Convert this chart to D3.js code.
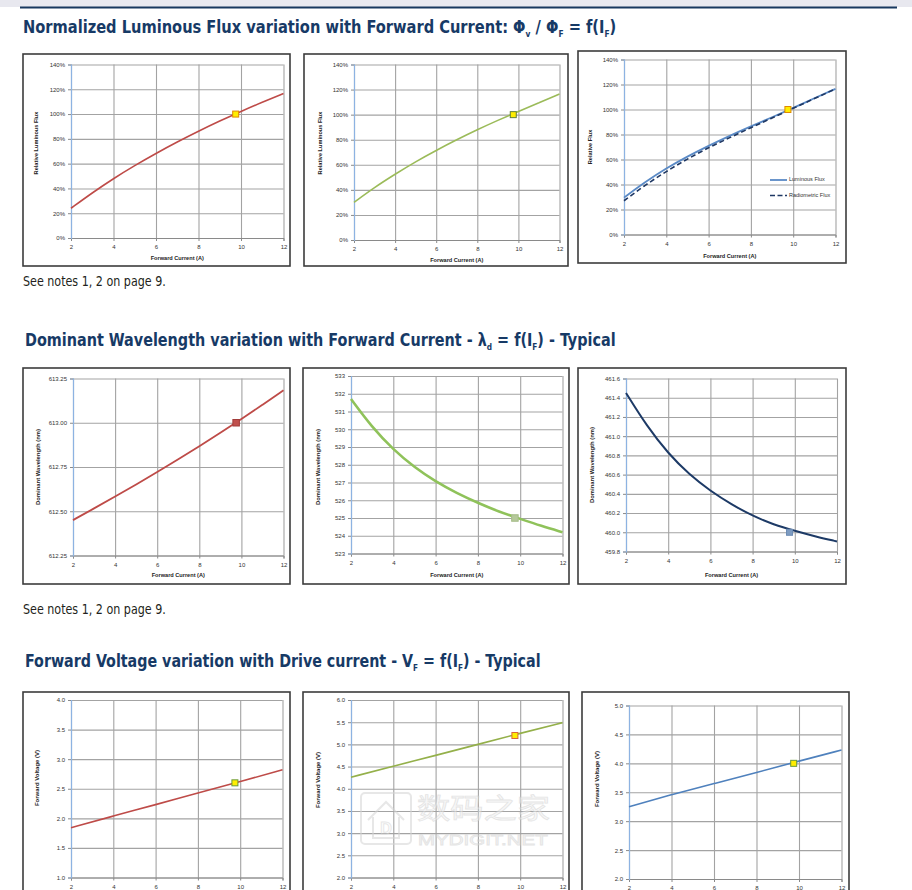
<!DOCTYPE html>
<html><head><meta charset="utf-8">
<script src="https://cdn.jsdelivr.net/npm/d3@7"></script>
<style>
html,body{margin:0;padding:0;background:#fff;}
svg{display:block;}
</style></head><body>
<svg id="c" width="912" height="890"></svg>
<script>
// ---------- DATA ----------
const currentA = [2,3,4,5,6,7,8,9,10,11,12];
const xTicks = [2,4,6,8,10,12];
const typicalCurrent = 9.75;

const fluxRed = [24,36.5,48,58.5,68.3,77.5,86.2,94.4,102.2,109.6,116.6];
const fluxGreen = [30,42,52.5,62.5,71.5,80,88,95.5,102.5,109.5,116.5];
const fluxBlueLuminous = [29.5,42,53,62.5,71,79,86.5,93.8,101.3,109,116.5];
const fluxBlueRadiometric = [27,39.5,50.5,60.5,69.5,77.5,85.5,93.2,101,108.7,116.5];
const fluxTypical = [100,100,100];
const fluxTicks = [0,20,40,60,80,100,120,140];
const legendLabels = ["Luminous Flux","Radiometric Flux"];

const wlRed = [612.45,612.516,612.583,612.651,612.721,612.793,612.867,612.943,613.021,613.101,613.183];
const wlGreen = [531.7,530.1,528.85,527.85,527.05,526.4,525.85,525.35,524.95,524.55,524.2];
const wlBlue = [461.45,461.1,460.82,460.6,460.43,460.29,460.17,460.08,460.015,459.955,459.905];
const wlTypical = [613.0,525.0,460.0];
const wlRedTicks = [612.25,612.5,612.75,613.0,613.25];
const wlGreenTicks = [523,524,525,526,527,528,529,530,531,532,533];
const wlBlueTicks = [459.8,460.0,460.2,460.4,460.6,460.8,461.0,461.2,461.4,461.6];

const vfCurrent = [2,4,6,8,10,12];
const vfRed = [1.84,2.04,2.23,2.43,2.62,2.82];
const vfGreen = [4.26,4.51,4.75,5.0,5.25,5.49];
const vfBlue = [3.25,3.46,3.65,3.84,4.04,4.23];
const vfTypical = [2.6,5.2,4.0];
const vfRedTicks = [1.0,1.5,2.0,2.5,3.0,3.5,4.0];
const vfGreenTicks = [2.0,2.5,3.0,3.5,4.0,4.5,5.0,5.5,6.0];
const vfBlueTicks = [2.0,2.5,3.0,3.5,4.0,4.5,5.0];

const xTitle = "Forward Current (A)";
const yTitles = ["Relative Luminous Flux","Relative Luminous Flux","Relative Flux",
  "Dominant Wavelength (nm)","Dominant Wavelength (nm)","Dominant Wavelength (nm)",
  "Forward Voltage (V)","Forward Voltage (V)","Forward Voltage (V)"];

// ---------- DRAW ----------
const svg = d3.select("#c");
const TITLE_FONT = "'Liberation Sans Narrow','DejaVu Sans Condensed','Arial Narrow',sans-serif";
const SMALL_FONT = "'Liberation Sans','Arial',sans-serif";

svg.append("rect").attr("x",0).attr("y",0).attr("width",912).attr("height",7).attr("fill","#e8e8ef");
svg.append("line").attr("x1",20).attr("x2",897).attr("y1",7.5).attr("y2",7.5).attr("stroke","#17375e").attr("stroke-width",2);

function fitX(sel, x, y, len){
  const w = sel.node().getBBox().width;
  const s = len / w;
  sel.attr("transform",`translate(${x},${y}) scale(${s},1)`);
}

function title(parts, x, y, len){
  const t = svg.append("text").attr("x",0).attr("y",0)
    .attr("font-family",TITLE_FONT).attr("font-weight","bold").attr("font-size",18.5)
    .attr("fill","#173a66");
  parts.forEach(p=>{
    if(p.sub) t.append("tspan").attr("font-size",9.5).attr("baseline-shift",-4).text(p.sub);
    else t.append("tspan").text(p.t);
  });
  fitX(t,x,y,len);
}
title([{t:"Normalized Luminous Flux variation with Forward Current: Φ"},{sub:"v"},{t:" / Φ"},{sub:"F"},{t:" = f(I"},{sub:"F"},{t:")"}],23,33,594);
title([{t:"Dominant Wavelength variation with Forward Current - λ"},{sub:"d"},{t:" = f(I"},{sub:"F"},{t:") - Typical"}],25,346,591);
title([{t:"Forward Voltage variation with Drive current - V"},{sub:"F"},{t:" = f(I"},{sub:"F"},{t:") - Typical"}],25,667,516);

function note(txt,y){
  const t = svg.append("text").attr("x",0).attr("y",0).attr("font-family",TITLE_FONT).attr("font-size",13.5)
   .attr("fill","#231f20").text(txt);
  fitX(t,23,y,143);
}
note("See notes 1, 2 on page 9.",286);
note("See notes 1, 2  on page 9.",614);

function panel(o){
  const g = svg.append("g");
  g.append("rect").attr("x",o.box[0]).attr("y",o.box[1]).attr("width",o.box[2]-o.box[0]).attr("height",o.box[3]-o.box[1])
    .attr("fill","#fff").attr("stroke","#3c3c3c").attr("stroke-width",1.6);
  const [xl,xr,yt,yb] = o.plot;
  const x = d3.scaleLinear().domain([2,12]).range([xl,xr]);
  const y = d3.scaleLinear().domain([o.ticks[0],o.ticks[o.ticks.length-1]]).range([yb,yt]);
  const w = xr-xl, h = yb-yt;
  // grid
  const gy = g.append("g").attr("transform",`translate(${xl},0)`).call(d3.axisLeft(y).tickValues(o.ticks).tickSize(-w).tickFormat(""));
  gy.select(".domain").remove();
  gy.selectAll("line").attr("stroke","#a3a3a3").attr("stroke-width",1.1);
  const gx = g.append("g").attr("transform",`translate(0,${yb})`).call(d3.axisBottom(x).tickValues(xTicks).tickSize(-h).tickFormat(""));
  gx.select(".domain").remove();
  gx.selectAll("line").attr("stroke","#a3a3a3").attr("stroke-width",1.1);
  // axes
  const ax = g.append("g").attr("transform",`translate(0,${yb})`).call(d3.axisBottom(x).tickValues(xTicks).tickSize(3).tickPadding(4));
  ax.select(".domain").attr("stroke","#8a8a8a");
  ax.selectAll("line").attr("stroke","#8a8a8a");
  ax.selectAll("text").attr("font-family",SMALL_FONT).attr("font-size",6).attr("fill","#333");
  const ay = g.append("g").attr("transform",`translate(${xl},0)`).call(d3.axisLeft(y).tickValues(o.ticks).tickSize(3).tickPadding(3).tickFormat(o.fmt));
  ay.select(".domain").attr("stroke","#8db3e2").attr("stroke-width",1.2);
  ay.selectAll("line").attr("stroke","#8a8a8a");
  ay.selectAll("text").attr("font-family",SMALL_FONT).attr("font-size",6).attr("fill","#333");
  // titles
  if(o.xTitleY){
    g.append("text").attr("x",(xl+xr)/2).attr("y",o.xTitleY).attr("text-anchor","middle").attr("dominant-baseline","middle")
      .attr("font-family",SMALL_FONT).attr("font-weight","bold").attr("font-size",5.6).attr("fill","#222").text(xTitle);
  }
  g.append("text").attr("transform",`translate(${o.yTitle[0]},${o.yTitle[1]}) rotate(-90)`).attr("text-anchor","middle").attr("dominant-baseline","middle")
    .attr("font-family",SMALL_FONT).attr("font-weight","bold").attr("font-size",o.yTitleSize||5.6).attr("fill","#222").text(o.yTitleText);
  // lines
  const line = d3.line().x(d=>x(d[0])).y(d=>y(d[1])).curve(d3.curveBasis);
  o.series.forEach(s=>{
    g.append("path").datum(d3.zip(s.xs,s.ys)).attr("d",line).attr("fill","none")
      .attr("stroke",s.color).attr("stroke-width",s.width).attr("stroke-dasharray",s.dash||null);
  });
  // typical marker
  const m = o.marker, ms = m.size||6;
  g.append("rect").attr("x",x(typicalCurrent)-ms/2).attr("y",y(m.v)-ms/2).attr("width",ms).attr("height",ms)
    .attr("fill",m.fill).attr("stroke",m.stroke).attr("stroke-width",m.sw||1);
  if(o.legend){
    o.legend.forEach((l,i)=>{
      const ly = o.legendY[i];
      g.append("line").attr("x1",o.legendX).attr("x2",o.legendX+17).attr("y1",ly).attr("y2",ly)
        .attr("stroke",l.color).attr("stroke-width",l.width).attr("stroke-dasharray",l.dash||null);
      g.append("text").attr("x",o.legendX+19).attr("y",ly).attr("dominant-baseline","middle")
        .attr("font-family",SMALL_FONT).attr("font-size",5.5).attr("fill","#333").text(l.label);
    });
  }
  return g;
}

const pct = d=>d+"%";
const RED="#be4b48", GREEN="#9bbb59", BLUE="#4f81bd", NAVY="#1f3864";

panel({box:[23,54,290,266],plot:[71,283.5,64.5,238],ticks:fluxTicks,fmt:pct,xTitleY:259,yTitle:[37,143],yTitleText:yTitles[0],
  series:[{xs:currentA,ys:fluxRed,color:RED,width:1.6}],marker:{v:fluxTypical[0],fill:"#ffee00",stroke:"#e08a00"}});
panel({box:[304,54,568,266],plot:[354,559.5,64.5,240],ticks:fluxTicks,fmt:pct,xTitleY:261,yTitle:[321,143],yTitleText:yTitles[1],
  series:[{xs:currentA,ys:fluxGreen,color:GREEN,width:1.6}],marker:{v:fluxTypical[1],fill:"#ffee00",stroke:"#5e7d3a"}});
panel({box:[578,51,846,263],plot:[624,835.5,59.5,234.5],ticks:fluxTicks,fmt:pct,xTitleY:257,yTitle:[591,147],yTitleText:yTitles[2],
  series:[{xs:currentA,ys:fluxBlueLuminous,color:"#5a8ac6",width:1.8},{xs:currentA,ys:fluxBlueRadiometric,color:NAVY,width:1.6,dash:"5,3"}],
  marker:{v:fluxTypical[2],fill:"#ffee00",stroke:"#e08a00"},
  legend:[{label:legendLabels[0],color:"#5a8ac6",width:1.8},{label:legendLabels[1],color:NAVY,width:1.6,dash:"5,2.5"}],legendX:770,legendY:[180,195.5]});

panel({box:[23,368,290,584],plot:[73,283.5,378.5,555.5],ticks:wlRedTicks,fmt:d3.format(".2f"),xTitleY:576,yTitle:[38,467],yTitleText:yTitles[3],yTitleSize:5.9,
  series:[{xs:currentA,ys:wlRed,color:RED,width:1.8}],marker:{v:wlTypical[0],fill:"#c0504d",stroke:"#a23c3a",size:6.5}});
panel({box:[303,368,569,584],plot:[351,562.5,376,553.5],ticks:wlGreenTicks,fmt:d3.format("d"),xTitleY:576,yTitle:[318,467],yTitleText:yTitles[4],yTitleSize:5.9,
  series:[{xs:currentA,ys:wlGreen,color:"#8fc25a",width:2.6}],marker:{v:wlTypical[1],fill:"#b5c99a",stroke:"#a5bc88",size:6.5}});
panel({box:[578,368,846,584],plot:[626,837,378.5,551.5],ticks:wlBlueTicks,fmt:d3.format(".1f"),xTitleY:576,yTitle:[592,465],yTitleText:yTitles[5],yTitleSize:5.9,
  series:[{xs:currentA,ys:wlBlue,color:"#1d3a66",width:2}],marker:{v:wlTypical[2],fill:"#7d9bc1",stroke:"#6c8bb3",size:6}});

panel({box:[23,692,290,905],plot:[71,282.5,700,877.5],ticks:vfRedTicks,fmt:d3.format(".1f"),yTitle:[37,778],yTitleText:yTitles[6],yTitleSize:6,
  series:[{xs:vfCurrent,ys:vfRed,color:RED,width:1.6}],marker:{v:vfTypical[0],fill:"#ffee00",stroke:"#6a9a3a"}});
panel({box:[303,692,569,905],plot:[351,562.5,700,877.5],ticks:vfGreenTicks,fmt:d3.format(".1f"),yTitle:[318,780],yTitleText:yTitles[7],yTitleSize:6,
  series:[{xs:vfCurrent,ys:vfGreen,color:"#94b04a",width:1.6}],marker:{v:vfTypical[1],fill:"#ffee00",stroke:"#d9663a"}});

// watermark (faint) in middle-bottom panel
const wm = svg.append("g").attr("opacity",0.55);
wm.append("rect").attr("x",361).attr("y",793).attr("width",50).attr("height",51).attr("rx",4).attr("fill","none").attr("stroke","#d4d4d4").attr("stroke-width",2);
wm.append("path").attr("d","M368,820 L386,802 L404,820 M373,817 L373,838 L399,838 L399,817").attr("fill","none").attr("stroke","#d4d4d4").attr("stroke-width",2);
wm.append("text").attr("x",386).attr("y",834).attr("text-anchor","middle").attr("font-family",SMALL_FONT).attr("font-weight","bold").attr("font-size",16).attr("fill","none").attr("stroke","#d4d4d4").text("D");
const wm1 = wm.append("text").attr("x",0).attr("y",0).attr("font-family","'Noto Sans CJK SC',sans-serif").attr("font-size",28).attr("fill","#f2f2f2").attr("stroke","#d0d0d0").attr("stroke-width",0.8).text("数码之家");
fitX(wm1,417,819,133);
const wm2 = wm.append("text").attr("x",0).attr("y",0).attr("font-family",SMALL_FONT).attr("font-size",14.5).attr("fill","#f4f4f4").attr("stroke","#d0d0d0").attr("stroke-width",0.8).text("MYDIGIT.NET");
fitX(wm2,418,845,130);

panel({box:[582,692,849,905],plot:[629,841.5,705.5,879],ticks:vfBlueTicks,fmt:d3.format(".1f"),yTitle:[597,779],yTitleText:yTitles[8],yTitleSize:6,
  series:[{xs:vfCurrent,ys:vfBlue,color:BLUE,width:1.6}],marker:{v:vfTypical[2],fill:"#ffee00",stroke:"#6a9a3a"}});
</script>
</body></html>
